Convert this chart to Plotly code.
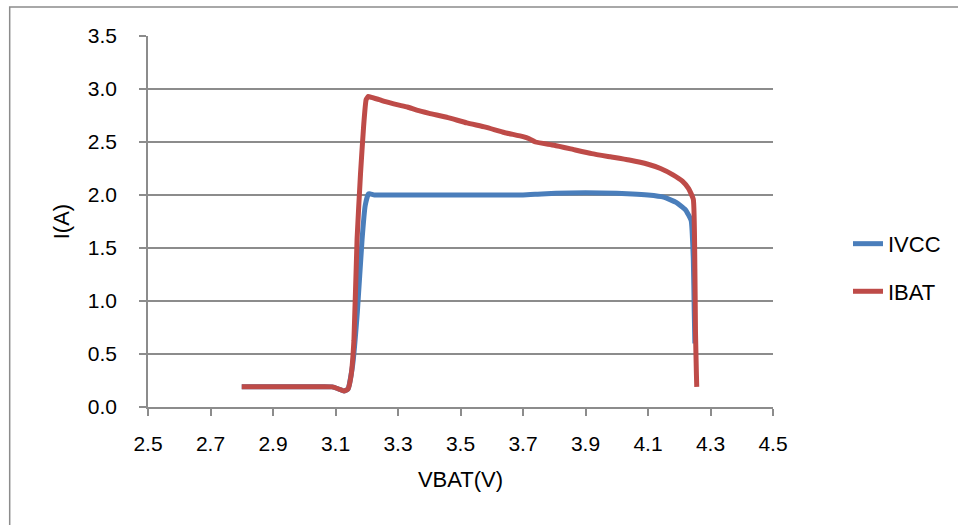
import plotly.graph_objects as go

# VBAT sweep (V) and currents (A)
vbat_ibat = [2.80, 2.90, 3.00, 3.09, 3.11, 3.127, 3.14, 3.15, 3.159, 3.169, 3.18, 3.19,
             3.198, 3.205, 3.215, 3.24, 3.26, 3.30, 3.33, 3.36, 3.40, 3.46, 3.52, 3.58,
             3.64, 3.70, 3.72, 3.74, 3.80, 3.86, 3.92, 3.98, 4.04, 4.10, 4.14, 4.18,
             4.21, 4.23, 4.245, 4.25, 4.252, 4.255, 4.256]
ibat = [0.19, 0.19, 0.19, 0.19, 0.17, 0.15, 0.17, 0.30, 0.63, 1.58, 2.20, 2.65,
        2.90, 2.93, 2.92, 2.90, 2.88, 2.85, 2.83, 2.80, 2.77, 2.73, 2.68, 2.64,
        2.59, 2.55, 2.53, 2.50, 2.47, 2.43, 2.39, 2.36, 2.33, 2.29, 2.25, 2.19,
        2.13, 2.06, 1.96, 1.30, 0.70, 0.30, 0.19]

vbat_ivcc = [2.80, 2.90, 3.00, 3.09, 3.11, 3.127, 3.14, 3.155, 3.17, 3.185, 3.195, 3.205,
             3.212, 3.225, 3.30, 3.40, 3.50, 3.60, 3.70, 3.76, 3.85, 3.95, 4.05, 4.10,
             4.15, 4.19, 4.22, 4.238, 4.245, 4.248, 4.25]
ivcc = [0.19, 0.19, 0.19, 0.19, 0.17, 0.15, 0.17, 0.40, 0.90, 1.58, 1.90, 2.01,
        2.01, 2.00, 2.00, 2.00, 2.00, 2.00, 2.00, 2.01, 2.02, 2.02, 2.01, 2.00,
        1.98, 1.93, 1.86, 1.76, 1.40, 0.90, 0.60]

x_ticks = [2.5, 2.7, 2.9, 3.1, 3.3, 3.5, 3.7, 3.9, 4.1, 4.3, 4.5]
y_ticks = [0.0, 0.5, 1.0, 1.5, 2.0, 2.5, 3.0, 3.5]

font = dict(family="Liberation Sans, Arial, sans-serif", size=21, color="#000000")
grid = "#8c8c8c"

fig = go.Figure()
fig.add_trace(go.Scatter(x=vbat_ivcc, y=ivcc, mode="lines", name="IVCC",
                         legendgroup="a",
                         line=dict(color="#4A7EBB", width=5, shape="spline",
                                   smoothing=0.4)))
fig.add_trace(go.Scatter(x=vbat_ibat, y=ibat, mode="lines", name="IBAT",
                         legendgroup="b",
                         line=dict(color="#BE4B48", width=5, shape="spline",
                                   smoothing=0.4)))

fig.update_layout(
    width=958, height=525,
    margin=dict(l=148, r=179, t=36, b=118),
    paper_bgcolor="white", plot_bgcolor="white",
    font=font,
    legend=dict(x=1.12, y=0.375, xanchor="left", yanchor="middle",
                tracegroupgap=16, traceorder="grouped",
                font=dict(size=22), bgcolor="rgba(0,0,0,0)"),
    shapes=[dict(type="rect", xref="paper", yref="paper",
                 x0=-0.2213, x1=1.35, y0=-0.4, y1=1.078,
                 line=dict(color="#8c8c8c", width=1.5), layer="below")],
)
fig.update_xaxes(
    range=[2.5, 4.5], tickvals=x_ticks, ticktext=[f"{v:.1f}" for v in x_ticks],
    showgrid=False, zeroline=False, showline=True, linecolor=grid, linewidth=1.5,
    ticks="outside", ticklen=7, tickcolor=grid, tickwidth=1.5,
    ticklabelstandoff=10,
    title=dict(text="VBAT(V)", standoff=18, font=dict(size=22)),
)
fig.update_yaxes(
    range=[0, 3.5], tickvals=y_ticks, ticktext=[f"{v:.1f}" for v in y_ticks],
    showgrid=True, gridcolor=grid, gridwidth=1.5, zeroline=False,
    showline=True, linecolor=grid, linewidth=1.5,
    ticks="outside", ticklen=7, tickcolor=grid, tickwidth=1.5,
    ticklabelstandoff=18,
    title=dict(text="I(A)", standoff=12, font=dict(size=22)),
)

fig.write_html("out.html", config={"displayModeBar": False},
               post_script="document.body.style.margin='0';")
